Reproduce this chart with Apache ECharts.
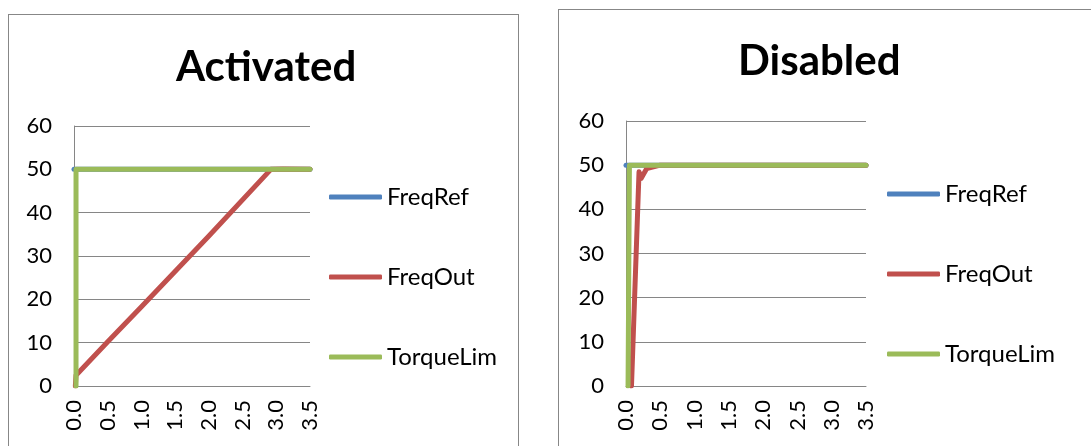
<!DOCTYPE html>
<html>
<head>
<meta charset="utf-8">
<script src="https://cdn.jsdelivr.net/npm/echarts@6/dist/echarts.min.js"></script>
<style>
  body { margin: 0; width: 1091px; height: 446px; overflow: hidden; background: #fff; position: relative; }
  .report_container { position: absolute; border: 1px solid #878787; box-sizing: border-box; }
  #container1 { left: 8px; top: 14px; width: 511px; height: 450px; }
  #container2 { left: 558px; top: 9px; width: 560px; height: 460px; }
</style>
</head>
<body>
<div class="report_container" id="container1"></div>
<div class="report_container" id="container2"></div>
<script>
  // x axis ticks (seconds) and y axis ticks
  const xTicks = [0.0, 0.5, 1.0, 1.5, 2.0, 2.5, 3.0, 3.5];
  const yTicks = [0, 10, 20, 30, 40, 50, 60];
  const seriesNames = ['FreqRef', 'FreqOut', 'TorqueLim'];
  const seriesColors = ['#4F81BD', '#C0504D', '#9BBB59'];

  // Activated: [time, value]
  const actFreqRef = [[0, 50], [3.5, 50]];
  const actFreqOut = [[0.02, 0], [0.03, 2.5], [0.5, 10.2], [1.0, 18.3], [2.0, 34.6], [2.92, 50], [3.1, 50.1], [3.5, 50]];
  const actTorqueLim = [[0.03, 0], [0.03, 50], [3.5, 50]];

  // Disabled: [time, value]
  const disFreqRef = [[0, 50], [3.5, 50]];
  const disFreqOut = [[0.08, 0], [0.19, 48.5], [0.22, 47], [0.3, 49.2], [0.5, 50], [1.0, 50], [2.0, 50], [3.5, 50]];
  const disTorqueLim = [[0.03, 0], [0.05, 50], [3.5, 50]];

  const font = 'Lato, "Open Sans", sans-serif';

  function buildOption(title, titleLeft, titleTop, grid, legendLeft, legendTop, data) {
    return {
      animation: false,
      title: {
        text: title,
        left: titleLeft,
        top: titleTop,
        textStyle: { fontFamily: font, fontSize: 42, fontWeight: 'bold', color: '#000' }
      },
      grid: grid,
      legend: {
        orient: 'vertical',
        left: legendLeft,
        top: legendTop,
        icon: 'roundRect',
        itemWidth: 53,
        itemHeight: 5,
        itemGap: 54,
        data: seriesNames,
        textStyle: { fontFamily: font, fontSize: 24, color: '#000', lineHeight: 26 }
      },
      xAxis: {
        type: 'value',
        min: xTicks[0],
        max: xTicks[xTicks.length - 1],
        interval: 0.5,
        axisLine: { show: true, lineStyle: { color: '#868686', width: 1 } },
        axisTick: { show: false },
        splitLine: { show: false },
        axisLabel: {
          rotate: 90,
          margin: 14,
          fontFamily: font,
          fontSize: 22,
          color: '#000',
          formatter: v => v.toFixed(1)
        }
      },
      yAxis: {
        type: 'value',
        min: yTicks[0],
        max: yTicks[yTicks.length - 1],
        interval: 10,
        axisLine: { show: true, lineStyle: { color: '#868686', width: 1 } },
        axisTick: { show: false },
        splitLine: { show: true, lineStyle: { color: '#868686', width: 1 } },
        axisLabel: { margin: 22, fontFamily: font, fontSize: 22, color: '#000' }
      },
      series: data.map((d, i) => ({
        name: seriesNames[i],
        type: 'line',
        data: d,
        symbol: 'none',
        color: seriesColors[i],
        lineStyle: { width: 5, color: seriesColors[i], cap: 'round', join: 'round' }
      }))
    };
  }

  const chart1 = echarts.init(document.getElementById('container1'));
  chart1.setOption(buildOption('Activated', 162, 26,
    { left: 65, top: 111, width: 236, height: 260 }, 315, 164,
    [actFreqRef, actFreqOut, actTorqueLim]));

  const chart2 = echarts.init(document.getElementById('container2'));
  chart2.setOption(buildOption('Disabled', 174, 25,
    { left: 67, top: 111, width: 240, height: 265 }, 323, 166,
    [disFreqRef, disFreqOut, disTorqueLim]));
</script>
</body>
</html>
